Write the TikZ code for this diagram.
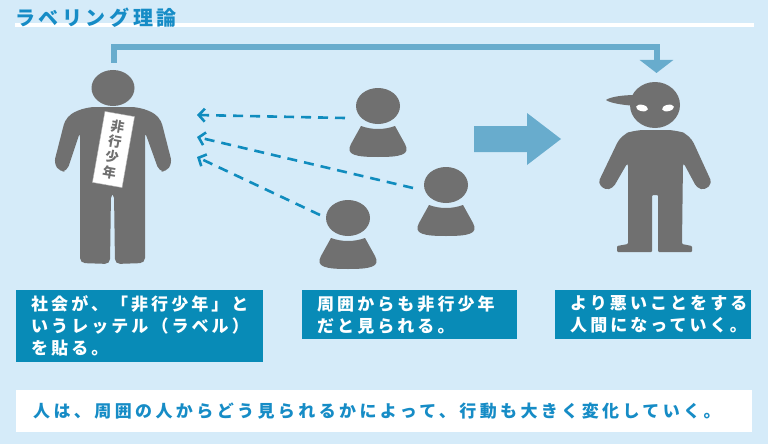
\documentclass[tikz,border=0pt]{standalone}
\usepackage{fontspec}
\setmainfont{Noto Sans CJK JP}
\usetikzlibrary{arrows.meta}

\definecolor{bgblue}{RGB}{213,235,249}
\definecolor{figgray}{RGB}{112,112,112}
\definecolor{dashblue}{RGB}{16,140,190}
\definecolor{paleblue}{RGB}{104,172,205}
\definecolor{boxblue}{RGB}{8,139,183}
\definecolor{textblue}{RGB}{22,140,198}

\newcommand\titlefont{\fontsize{20}{22}\bfseries\addfontfeature{LetterSpace=18}}
\newcommand\boxfont{\fontsize{17}{22}\bfseries\addfontfeature{LetterSpace=18}}
\newcommand\notefont{\fontsize{17}{22}\bfseries\addfontfeature{LetterSpace=20}}

\begin{document}
\begin{tikzpicture}[
                                x=1pt, y=-1pt,
                                figure/.style={
                                    fill=figgray
                                    },
                                look/.style={
                                    dashblue, line width=2.6pt,
                                    dash pattern=on 10pt off 7pt,
                                    -{Straight Barb[length=6pt, width=13pt]}
                                    },
                                link/.style={
                                    paleblue, line width=6pt, miter limit=4,
                                    -{Triangle[length=13pt, width=33pt]}
                                    },
                                infobox/.style={
                                    fill=boxblue, text=white,
                                    anchor=north west, align=left,
                                    inner xsep=15pt, inner ysep=0pt,
                                    minimum height=49pt,
                                    font=\boxfont
                                    },
                                tag/.style={
                                    fill=white, draw=figgray!50, thin,
                                    minimum width=30pt, minimum height=72pt,
                                    align=center, text=figgray,
                                    font=\fontsize{13.5}{15.5}\bfseries
                                    },
                                bust/.pic={
                                    \fill[figure] (0,0) ellipse [x radius=22, y radius=18];
                                    \fill[figure] (-17,20) .. controls (-6,24) and (6,24) .. (17,20)
                                        -- (27,38) .. controls (33,49) and (22,51) .. (0,51)
                                        .. controls (-22,51) and (-33,49) .. (-27,38) -- cycle;
                                    }
                                ]
                            % background and title
                            \fill[bgblue] (0,0) rectangle (768,444);
                            \draw[white, line width=4pt] (15,25) -- (754,25);
                            \node[anchor=base west, inner sep=0pt, text=textblue, font=\titlefont] (title) at (15,25.5) {ラベリング理論};

                            % labelled boy
                            \fill[figure] (113,88) ellipse [x radius=21.5, y radius=18];
                            \fill[figure, rounded corners=9] (86,107) -- (140,107) -- (160,116)
                                [rounded corners=5] -- (172,163) -- (166,172) -- (159,171) -- (145,132)
                                -- (145,263) -- (115,264) -- (114,193) -- (111,193) -- (110,264) -- (80,263)
                                -- (80,132) -- (67,171) -- (60,172) -- (54,163)
                                [rounded corners=9] -- (66,116) -- cycle;
                            \node[tag, rotate=-10] (tag) at (113.5,149.5) {非\\行\\少\\年};

                            % people around
                            \pic (seenA) at (378,106) {bust};
                            \pic (seenB) at (446,185) {bust};
                            \pic (seenC) at (348,218) {bust};
                            \coordinate (fromA) at (345,118);
                            \coordinate (fromB) at (413,188);
                            \coordinate (fromC) at (320,215);
                            \coordinate (toA) at (197,115);
                            \coordinate (toB) at (197,137);
                            \coordinate (toC) at (197,157);
                            \draw[look] (fromA) -- (toA);
                            \draw[look] (fromB) -- (toB);
                            \draw[look] (fromC) -- (toC);

                            % big arrow
                            \fill[paleblue] (474,126) -- (527,126) -- (527,113) -- (561,139)
                                -- (527,165) -- (527,152) -- (474,152) -- cycle;

                            % worse boy
                            \fill[figure] (655,105) ellipse [x radius=25, y radius=23];
                            \fill[figure] (636,95) .. controls (622,95) and (610,97) .. (606,100)
                                .. controls (610,103) and (622,105) .. (636,106) -- cycle;
                            \fill[white, rotate around={-12:(642,108)}] (642,108) ellipse [x radius=6, y radius=3.2];
                            \fill[white, rotate around={12:(668,108)}] (668,108) ellipse [x radius=6, y radius=3.2];
                            \fill[figure, rounded corners=9] (635,130) -- (676,130) -- (690,135)
                                [rounded corners=4] -- (712,183) -- (705,190) -- (697,188) -- (683,162)
                                [rounded corners=1] -- (682,244) -- (692,246) -- (692,252) -- (658,252)
                                -- (658,195) -- (652,195) -- (652,252) -- (617,252) -- (617,246) -- (628,244)
                                [rounded corners=4] -- (628,162) -- (613,188) -- (605,190) -- (598,183)
                                [rounded corners=9] -- (621,135) -- cycle;

                            % bracket from the label to the result
                            \coordinate (topL) at (114,63);
                            \coordinate (topR) at (656.5,73);
                            \draw[link] (topL) -- ++(0,-16) -| (topR);

                            % texts
                            \node[infobox, text width=217pt, minimum height=72pt] (society) at (16,290)
                                {社会が、「非行少年」と\\いうレッテル（ラベル）\\を貼る。};
                            \node[infobox, text width=185pt] (around) at (302,290)
                                {周囲からも非行少年\\だと見られる。};
                            \node[infobox, text width=166pt] (worse) at (555,290)
                                {より悪いことをする\\人間になっていく。};
                            \node[fill=white, anchor=north west, align=left, text width=702pt,
                                inner xsep=17pt, inner ysep=0pt, minimum height=42pt,
                                text=textblue, font=\notefont] (note) at (16,390)
                                {人は、周囲の人からどう見られるかによって、行動も大きく変化していく。};
                        \end{tikzpicture}
\end{document}
